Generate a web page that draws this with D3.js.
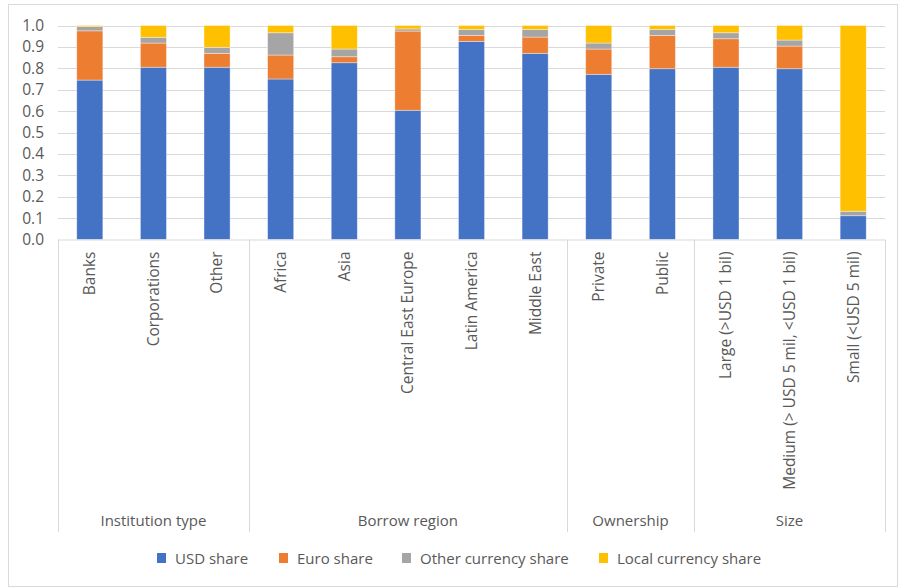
<!DOCTYPE html>
<html>
<head>
<meta charset="utf-8">
<script src="https://cdn.jsdelivr.net/npm/d3@7"></script>
<style>
  html, body { margin: 0; padding: 0; background: #fff; }
  svg { display: block; font-family: "Open Sans", "Segoe UI", sans-serif; }
</style>
</head>
<body>
<svg id="chart" width="899" height="587"></svg>
<script>
// Borrower categories, grouped by the dimension they belong to
const categories = ["Banks", "Corporations", "Other",
  "Africa", "Asia", "Central East Europe", "Latin America", "Middle East",
  "Private", "Public",
  "Large (>USD 1 bil)", "Medium (> USD 5 mil, <USD 1 bil)", "Small (<USD 5 mil)"];
const groupNames = ["Institution type", "Borrow region", "Ownership", "Size"];
const groupSizes = [3, 5, 2, 3];

// Currency shares per category (each column sums to 1)
const usdShare   = [0.745, 0.805, 0.805, 0.750, 0.826, 0.604, 0.926, 0.870, 0.772, 0.798, 0.805, 0.798, 0.111];
const euroShare  = [0.230, 0.113, 0.065, 0.112, 0.028, 0.370, 0.028, 0.076, 0.118, 0.156, 0.133, 0.106, 0.000];
const otherShare = [0.020, 0.027, 0.028, 0.104, 0.036, 0.010, 0.028, 0.036, 0.028, 0.028, 0.028, 0.028, 0.021];
const localShare = [0.005, 0.055, 0.102, 0.034, 0.110, 0.016, 0.018, 0.018, 0.082, 0.018, 0.034, 0.068, 0.868];

const seriesNames = ["USD share", "Euro share", "Other currency share", "Local currency share"];
const seriesColors = ["#4472C4", "#ED7D31", "#A5A5A5", "#FFC000"];
const yTicks = [0, 0.1, 0.2, 0.3, 0.4, 0.5, 0.6, 0.7, 0.8, 0.9, 1.0];

const rows = categories.map((c, i) => ({
  cat: c,
  usd: usdShare[i], euro: euroShare[i], other: otherShare[i], local: localShare[i]
}));
const keys = ["usd", "euro", "other", "local"];

const svg = d3.select("#chart");
const textColor = "#595959";
const lineColor = "#d9d9d9";

// chart frame
svg.append("rect")
  .attr("x", 8.5).attr("y", 4.5).attr("width", 889).attr("height", 582)
  .attr("fill", "#fff").attr("stroke", lineColor).attr("stroke-width", 1);

const plot = { left: 58, right: 885, top: 25.5, bottom: 239.5 };

const x = d3.scaleBand().domain(categories)
  .range([plot.left, plot.right]).paddingInner(0.59).paddingOuter(0.295);
const y = d3.scaleLinear().domain([0, 1]).range([plot.bottom, plot.top]);

// horizontal gridlines
svg.append("g").selectAll("line").data(yTicks.slice(1)).join("line")
  .attr("x1", plot.left).attr("x2", plot.right)
  .attr("y1", d => Math.round(y(d)) + 0.5).attr("y2", d => Math.round(y(d)) + 0.5)
  .attr("stroke", lineColor).attr("stroke-width", 1);

// value axis labels
const yAxis = d3.axisLeft(y).tickValues(yTicks).tickFormat(d3.format(".1f"))
  .tickSize(0).tickPadding(0);
const yg = svg.append("g").attr("transform", `translate(${44},0)`).call(yAxis);
yg.select(".domain").remove();
yg.selectAll("text").attr("fill", textColor).attr("font-size", 15.5)
  .attr("font-family", "'Open Sans', sans-serif");

// stacked bars
const stacked = d3.stack().keys(keys)(rows);
svg.append("g").selectAll("g").data(stacked).join("g")
  .attr("fill", (d, i) => seriesColors[i])
  .selectAll("rect").data(d => d).join("rect")
  .attr("x", d => x(d.data.cat))
  .attr("width", x.bandwidth())
  .attr("y", d => y(d[1]))
  .attr("height", d => Math.max(0, y(d[0]) - y(d[1])))
  .attr("stroke", "#fff").attr("stroke-opacity", 0.5).attr("stroke-width", 0.75);

// category axis line
svg.append("line")
  .attr("x1", plot.left).attr("x2", plot.right)
  .attr("y1", plot.bottom + 0.5).attr("y2", plot.bottom + 0.5)
  .attr("stroke", lineColor).attr("stroke-width", 1);

// group separators and group labels
const step = x.step();
let startIdx = 0;
const bounds = [plot.left];
groupSizes.forEach(n => { startIdx += n; bounds.push(plot.left + step * startIdx); });
svg.append("g").selectAll("line").data(bounds).join("line")
  .attr("x1", d => Math.round(d) + 0.5).attr("x2", d => Math.round(d) + 0.5)
  .attr("y1", plot.bottom).attr("y2", 532)
  .attr("stroke", lineColor).attr("stroke-width", 1);

svg.append("g").selectAll("text").data(groupNames).join("text")
  .attr("x", (d, i) => (bounds[i] + bounds[i + 1]) / 2)
  .attr("y", 526)
  .attr("text-anchor", "middle")
  .attr("font-size", 15).attr("fill", textColor)
  .text(d => d);

// rotated category labels
svg.append("g").selectAll("text").data(categories).join("text")
  .attr("transform", d => `translate(${x(d) + x.bandwidth() / 2},${251.5}) rotate(-90)`)
  .attr("text-anchor", "end")
  .attr("dy", "0.35em")
  .attr("font-size", 15.5).attr("fill", textColor)
  .text(d => d);

// legend
const legendX = [157, 279, 402, 599];
const legend = svg.append("g").selectAll("g").data(seriesNames).join("g")
  .attr("transform", (d, i) => `translate(${legendX[i]},${553})`);
legend.append("rect").attr("width", 9).attr("height", 10)
  .attr("fill", (d, i) => seriesColors[i]);
legend.append("text").attr("x", 18).attr("y", 10.5)
  .attr("font-size", 15).attr("fill", textColor)
  .text(d => d);
</script>
</body>
</html>
